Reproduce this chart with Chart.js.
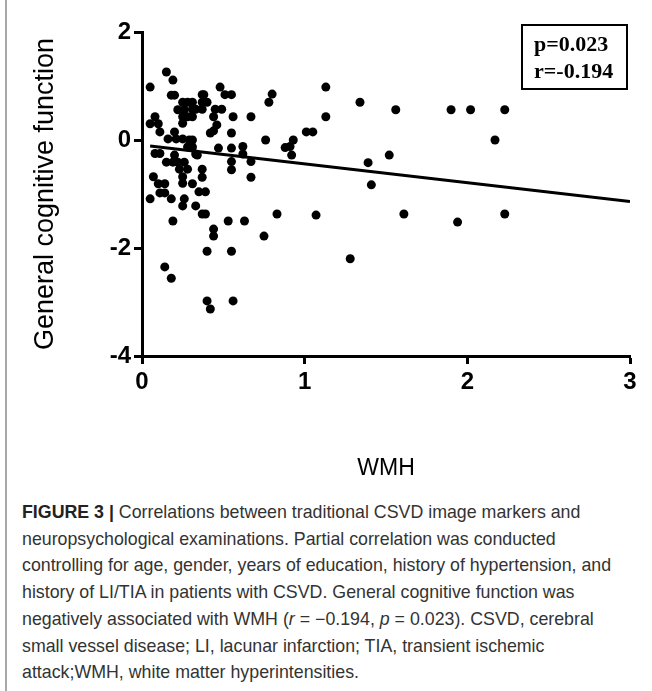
<!DOCTYPE html>
<html>
<head>
<meta charset="utf-8">
<script src="https://cdn.jsdelivr.net/npm/chart.js@4.4.0/dist/chart.umd.min.js"></script>
<style>
  html, body { margin: 0; padding: 0; background: #fff; }
  body { width: 652px; height: 691px; position: relative; overflow: hidden; }
  #frame { position: absolute; left: 5px; top: 0; width: 0; height: 691px; border-left: 2px solid #a8a8a8; }
  #chartBox { position: absolute; left: 0; top: 0; width: 652px; height: 495px; }
  #caption {
    position: absolute; left: 22px; top: 499px;
    font-family: "Liberation Sans", Arial, sans-serif; font-size: 17.8px;
    line-height: 26.7px; color: #333; white-space: nowrap;
  }
  #caption b { color: #222; }
</style>
</head>
<body>
<div id="frame"></div>
<div id="chartBox"><canvas id="wmhChart"></canvas></div>
<div id="caption"><b>FIGURE 3 |</b> Correlations between traditional CSVD image markers and<br>neuropsychological examinations. Partial correlation was conducted<br>controlling for age, gender, years of education, history of hypertension, and<br>history of LI/TIA in patients with CSVD. General cognitive function was<br>negatively associated with WMH (<i>r</i> = −0.194, <i>p</i> = 0.023). CSVD, cerebral<br>small vessel disease; LI, lacunar infarction; TIA, transient ischemic<br>attack;WMH, white matter hyperintensities.</div>

<script>
    // WMH (x) dan fungsi kognitif umum (y)
    const wmhValues = [
        0.15, 0.19, 0.05, 0.18, 0.20, 0.25, 0.28, 0.22, 0.26, 0.25, 0.28, 0.08, 0.05, 0.10,
        0.11, 0.20, 0.25, 0.16, 0.21, 0.25, 0.08, 0.11, 0.20, 0.15, 0.19, 0.22, 0.26, 0.23,
        0.28, 0.25, 0.07, 0.10, 0.14, 0.25, 0.11, 0.14, 0.05, 0.18, 0.25, 0.19, 0.14, 0.18,
        0.31, 0.37, 0.40, 0.31, 0.33, 0.37, 0.45, 0.49, 0.44, 0.31, 0.46, 0.42, 0.44, 0.29,
        0.31, 0.28, 0.31, 0.33, 0.34, 0.37, 0.37, 0.31, 0.35, 0.39, 0.26, 0.33, 0.37, 0.39,
        0.44, 0.44, 0.40, 0.55,
        0.48, 0.37, 0.38, 0.51, 0.55, 0.80, 0.78, 1.13, 1.34, 1.13, 0.67, 0.56, 0.55, 1.01,
        1.05, 0.76, 0.93, 0.88, 0.91, 0.92, 0.47, 0.55, 0.62, 0.62, 0.55, 0.67, 0.55, 0.67,
        0.53, 0.63, 0.83, 1.07, 0.75, 1.28,
        1.56, 1.90, 2.02, 2.23, 2.17, 1.52, 1.39, 1.41, 1.61, 1.94, 2.23,
        0.40, 0.42, 0.56
    ];
    const cognitionValues = [
        1.26, 1.11, 0.98, 0.83, 0.83, 0.70, 0.70, 0.56, 0.56, 0.43, 0.43, 0.43, 0.30, 0.30,
        0.15, 0.15, 0.31, 0.02, 0.02, 0.02, -0.25, -0.25, -0.28, -0.41, -0.41, -0.41, -0.41, -0.54,
        -0.54, -0.68, -0.68, -0.81, -0.81, -0.80, -0.98, -0.98, -1.09, -1.09, -1.22, -1.50, -2.35, -2.56,
        0.70, 0.70, 0.70, 0.57, 0.57, 0.57, 0.57, 0.57, 0.43, 0.43, 0.28, 0.13, 0.17, 0.00,
        0.00, -0.13, -0.13, -0.26, -0.28, -0.54, -0.69, -0.81, -0.96, -0.96, -1.09, -1.22, -1.37, -1.37,
        -1.65, -1.78, -2.06, -2.06,
        0.98, 0.84, 0.84, 0.84, 0.84, 0.85, 0.70, 0.98, 0.70, 0.43, 0.43, 0.43, 0.13, 0.15,
        0.15, 0.00, 0.00, -0.14, -0.12, -0.28, -0.15, -0.15, -0.12, -0.26, -0.40, -0.40, -0.55, -0.69,
        -1.50, -1.50, -1.37, -1.39, -1.78, -2.20,
        0.56, 0.56, 0.56, 0.56, 0.00, -0.28, -0.42, -0.83, -1.37, -1.52, -1.37,
        -2.98, -3.13, -2.98
    ];

    // Garis regresi (ujung kiri dan kanan)
    const fitX = [0.05, 3];
    const fitY = [-0.11, -1.14];

    // Tick sumbu
    const xTicks = [0, 1, 2, 3];
    const yTicks = [-4, -2, 0, 2];

    const statLines = ['p=0.023', 'r=-0.194'];

    const scatterPoints = wmhValues.map((x, i) => ({ x: x, y: cognitionValues[i] }));
    const fitPoints = fitX.map((x, i) => ({ x: x, y: fitY[i] }));

    // Kotak p / r di pojok kanan atas
    const statBox = {
        id: 'statBox',
        afterDraw(chart) {
            const ctx = chart.ctx;
            const right = chart.chartArea.right - 3;
            const x0 = right - 105, y0 = 25;
            ctx.save();
            ctx.lineWidth = 2;
            ctx.strokeStyle = '#000';
            ctx.strokeRect(x0, y0, 105, 64);
            ctx.fillStyle = '#000';
            ctx.font = 'bold 22px "Liberation Serif", "Times New Roman", serif';
            ctx.textBaseline = 'alphabetic';
            ctx.fillText(statLines[0], x0 + 12, y0 + 26);
            ctx.fillText(statLines[1], x0 + 12, y0 + 53);
            ctx.restore();
        }
    };

    const tickFont = { family: '"Liberation Sans", Arial, sans-serif', size: 24, weight: 'bold' };

    const wmhConfig = {
        type: 'scatter',
        data: {
            datasets: [{
                label: 'Pasien',
                data: scatterPoints,
                backgroundColor: '#000',
                borderWidth: 0,
                pointRadius: 4.5,
                pointHoverRadius: 4.5
            }, {
                type: 'line',
                label: 'Regresi',
                data: fitPoints,
                borderColor: '#000',
                borderWidth: 3,
                pointRadius: 0,
                fill: false
            }]
        },
        options: {
            responsive: true,
            maintainAspectRatio: false,
            animation: false,
            layout: { padding: { top: 32, right: 22, left: 0, bottom: 0 } },
            plugins: {
                legend: { display: false },
                tooltip: { enabled: false }
            },
            scales: {
                x: {
                    type: 'linear',
                    min: 0, max: 3,
                    afterBuildTicks: (s) => { s.ticks = xTicks.map(v => ({ value: v })); },
                    afterFit: (s) => { s.height = 139; },
                    grid: { drawOnChartArea: false, tickLength: 8, tickWidth: 3, tickColor: '#000' },
                    border: { display: true, width: 3, color: '#000' },
                    ticks: { color: '#000', font: tickFont, padding: 4 },
                    title: {
                        display: true, text: 'WMH', color: '#000',
                        font: { family: '"Liberation Sans", Arial, sans-serif', size: 23 },
                        padding: { bottom: 13 }
                    }
                },
                y: {
                    type: 'linear',
                    min: -4, max: 2,
                    afterBuildTicks: (s) => { s.ticks = yTicks.map(v => ({ value: v })); },
                    afterFit: (s) => { s.width = 142; },
                    grid: { drawOnChartArea: false, tickLength: 8, tickWidth: 3, tickColor: '#000' },
                    border: { display: true, width: 3, color: '#000' },
                    ticks: { color: '#000', font: tickFont, padding: 3 },
                    title: {
                        display: true, text: 'General cognitive function', color: '#000',
                        font: { family: '"Liberation Sans", Arial, sans-serif', size: 27 },
                        padding: { top: 29 }
                    }
                }
            }
        },
        plugins: [statBox]
    };

    const wmhCtx = document.getElementById('wmhChart').getContext('2d');
    new Chart(wmhCtx, wmhConfig);
</script>
</body>
</html>
